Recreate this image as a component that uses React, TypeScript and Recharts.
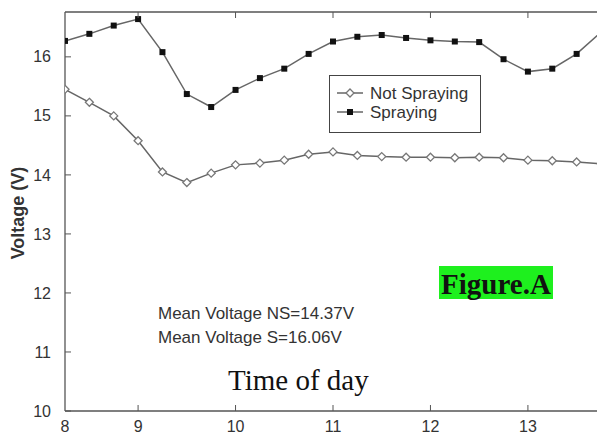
import React from "react";
import { LineChart, Line, XAxis, YAxis, Legend } from "recharts";

// time of day (hours), one reading every quarter hour
const times = [
  8.25, 8.5, 8.75, 9, 9.25, 9.5, 9.75, 10, 10.25, 10.5, 10.75, 11,
  11.25, 11.5, 11.75, 12, 12.25, 12.5, 12.75, 13, 13.25, 13.5, 13.75,
];
const notSpraying = [
  15.45, 15.23, 15.0, 14.58, 14.05, 13.87, 14.03, 14.17, 14.2, 14.25, 14.35, 14.39,
  14.33, 14.31, 14.3, 14.3, 14.29, 14.3, 14.29, 14.25, 14.24, 14.22, 14.19,
];
const spraying = [
  16.27, 16.39, 16.53, 16.64, 16.08, 15.37, 15.15, 15.44, 15.64, 15.8, 16.05, 16.26,
  16.34, 16.37, 16.32, 16.28, 16.26, 16.25, 15.96, 15.75, 15.8, 16.05, 16.42,
];

const xTicks = [8.25, 9, 10, 11, 12, 13];
const xTickLabels = ["8", "9", "10", "11", "12", "13"];
const topTicks = [9, 10, 11, 12, 13];
const yTicks = [10, 11, 12, 13, 14, 15, 16];
const xDomain = [8.25, 13.75];
const yDomain = [10, 16.76];

const AXIS = "#555";
const TXT = "#333";
const SANS = "'Liberation Sans', Arial, sans-serif";
const SERIF = "'Liberation Serif', 'Times New Roman', serif";

const BottomTick = (p: any) => {
  const i = xTicks.indexOf(p.payload.value);
  return (
    <g>
      {i > 0 && <line x1={p.x} x2={p.x} y1={p.y - 7} y2={p.y - 13} stroke={AXIS} />}
      <text x={p.x} y={p.y + 14} textAnchor="middle" fontSize={16} fill={TXT} fontFamily={SANS}>
        {xTickLabels[i]}
      </text>
    </g>
  );
};

const TopTick = (p: any) => (
  <line x1={p.x} x2={p.x} y1={p.y} y2={p.y + 6} stroke={AXIS} />
);

const LeftTick = (p: any) => (
  <g>
    <line x1={p.x + 14} x2={p.x + 20} y1={p.y} y2={p.y} stroke={AXIS} />
    <text x={p.x} y={p.y} dy="0.35em" textAnchor="end" fontSize={16} fill={TXT} fontFamily={SANS}>
      {p.payload.value}
    </text>
  </g>
);

const RightTick = (p: any) => (
  <line x1={p.x} x2={p.x - 6} y1={p.y} y2={p.y} stroke={AXIS} />
);

const Square = (p: any) => (
  <rect key={`s${p.index}`} x={p.cx - 3} y={p.cy - 3} width={6} height={6} fill="#111" />
);

const Diamond = (p: any) => (
  <polygon
    key={`d${p.index}`}
    points={`${p.cx},${p.cy - 4} ${p.cx + 4},${p.cy} ${p.cx},${p.cy + 4} ${p.cx - 4},${p.cy}`}
    fill="#fff"
    stroke="#777"
    strokeWidth={1.3}
  />
);

const LegendBox = () => (
  <svg width={152} height={58} style={{ display: "block" }}>
    <rect x={0.5} y={0.5} width={151} height={57} fill="#fff" stroke="#444" />
    <line x1={8} x2={34} y1={18} y2={18} stroke="#666" strokeWidth={1.5} />
    <polygon points="21,14 25,18 21,22 17,18" fill="#fff" stroke="#777" strokeWidth={1.3} />
    <text x={41} y={18} dy="0.35em" fontSize={17} fill={TXT} fontFamily={SANS}>Not Spraying</text>
    <line x1={8} x2={34} y1={37} y2={37} stroke="#666" strokeWidth={1.5} />
    <rect x={18} y={34} width={6} height={6} fill="#111" />
    <text x={41} y={37} dy="0.35em" fontSize={17} fill={TXT} fontFamily={SANS}>Spraying</text>
  </svg>
);

export default function App() {
  const data = times.map((t, i) => ({ t, ns: notSpraying[i], s: spraying[i] }));

  return (
    <div style={{ position: "absolute", left: 0, top: 0, width: 597, height: 435, overflow: "hidden", background: "#fff" }}>
      <LineChart width={606} height={435} data={data} margin={{ top: 0, right: 0, bottom: 0, left: 0 }}>
        <XAxis
          dataKey="t"
          type="number"
          domain={xDomain}
          ticks={xTicks}
          allowDataOverflow
          height={24}
          tickSize={0}
          tickMargin={7}
          tickLine={false}
          axisLine={{ stroke: AXIS, strokeWidth: 1.3 }}
          tick={BottomTick}
        />
        <XAxis
          xAxisId="top"
          orientation="top"
          dataKey="t"
          type="number"
          domain={xDomain}
          ticks={topTicks}
          height={12}
          tickSize={0}
          tickMargin={0}
          tickLine={false}
          axisLine={{ stroke: AXIS, strokeWidth: 1.3 }}
          tick={TopTick}
        />
        <YAxis
          type="number"
          domain={yDomain}
          ticks={yTicks}
          allowDataOverflow
          width={65}
          tickSize={0}
          tickMargin={14}
          tickLine={false}
          axisLine={{ stroke: AXIS, strokeWidth: 1.3 }}
          tick={LeftTick}
        />
        <YAxis
          yAxisId="right"
          orientation="right"
          type="number"
          domain={yDomain}
          ticks={yTicks}
          width={5}
          tickSize={0}
          tickMargin={0}
          tickLine={false}
          axisLine={{ stroke: AXIS, strokeWidth: 1.3 }}
          tick={RightTick}
        />
        <Legend
          layout="vertical"
          align="center"
          verticalAlign="middle"
          content={LegendBox}
          wrapperStyle={{ left: 329, top: 75, width: 152, height: 58 }}
        />
        <Line
          dataKey="ns"
          name="Not Spraying"
          type="linear"
          stroke="#666"
          strokeWidth={1.5}
          dot={Diamond}
          isAnimationActive={false}
        />
        <Line
          dataKey="s"
          name="Spraying"
          type="linear"
          stroke="#666"
          strokeWidth={1.5}
          dot={Square}
          isAnimationActive={false}
        />
      </LineChart>
      <svg width={597} height={435} style={{ position: "absolute", left: 0, top: 0, pointerEvents: "none" }}>
        <text
          x={18}
          y={213}
          transform="rotate(-90 18 213)"
          textAnchor="middle"
          dominantBaseline="central"
          fontSize={18}
          fontWeight="bold"
          fill={TXT}
          fontFamily={SANS}
        >
          Voltage (V)
        </text>
        <text x={158} y={319} fontSize={17} fill={TXT} fontFamily={SANS}>Mean Voltage NS=14.37V</text>
        <text x={158} y={343} fontSize={17} fill={TXT} fontFamily={SANS}>Mean Voltage S=16.06V</text>
        <text x={228} y={390} fontSize={29} fill="#111" fontFamily={SERIF}>Time of day</text>
        <rect x={439} y={266} width={114} height={33} fill="#1ef01e" />
        <text x={496} y={294} textAnchor="middle" fontSize={29} fontWeight="bold" fill="#111" fontFamily={SERIF}>
          Figure.A
        </text>
      </svg>
    </div>
  );
}
